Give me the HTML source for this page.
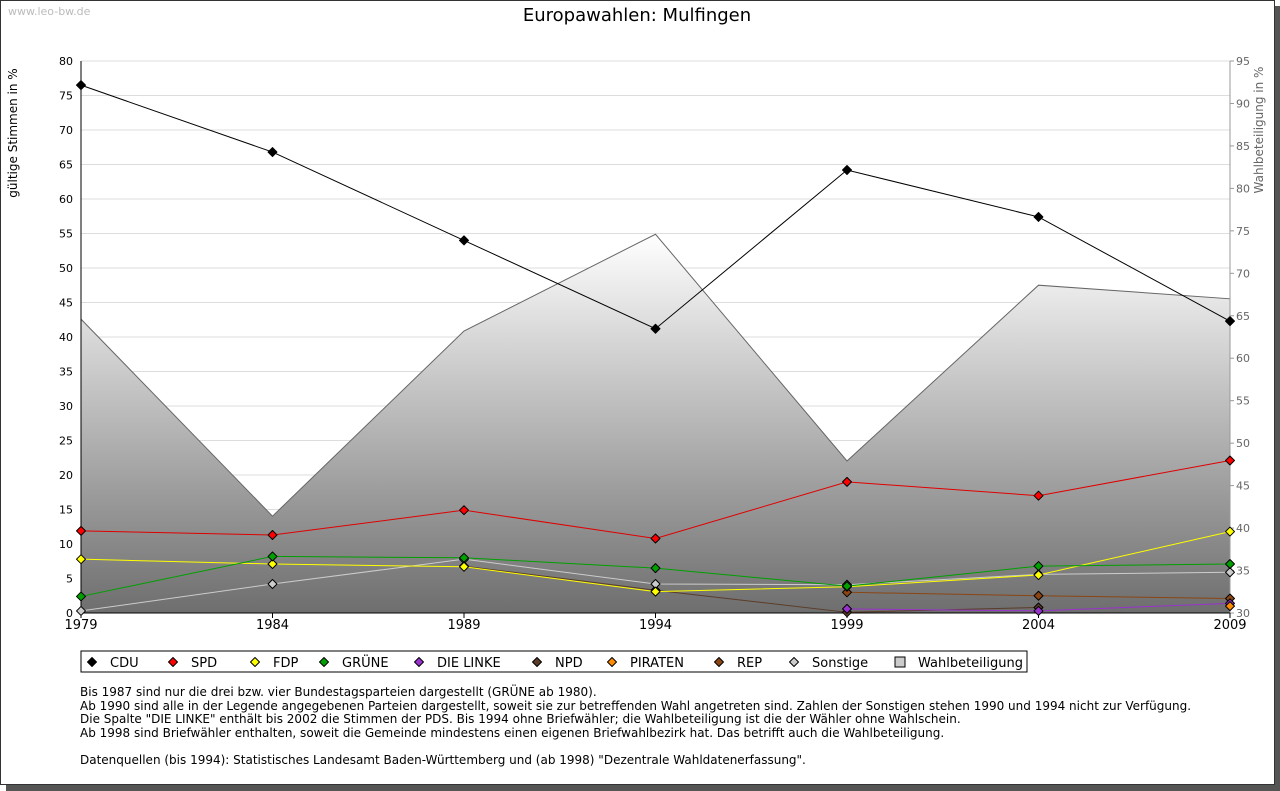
<!DOCTYPE html>
<html><head><meta charset="utf-8"><style>
body{margin:0;background:#fff;font-family:"DejaVu Sans","Liberation Sans",sans-serif;}
#frame{position:absolute;left:0;top:0;width:1273px;height:783px;border:1px solid #333;box-shadow:6px 6px 0 #555;background:#fff;}
.notes{position:absolute;left:80px;top:686px;font-size:12px;line-height:13.5px;color:#000;}
</style></head><body>
<div id="frame"></div>
<svg id="chart" width="1280" height="791" style="position:absolute;left:0;top:0;font-family:'DejaVu Sans',sans-serif">
<defs><linearGradient id="g" x1="0" y1="0" x2="0" y2="1"><stop offset="0" stop-color="#ffffff"/><stop offset="1" stop-color="#6e6e6e"/></linearGradient></defs>
<text x="8" y="15" font-size="11" fill="#bbb">www.leo-bw.de</text>
<text x="637" y="21" font-size="18" text-anchor="middle">Europawahlen: Mulfingen</text>
<g id="plot"></g>
</svg>
<div class="notes">Bis 1987 sind nur die drei bzw. vier Bundestagsparteien dargestellt (GRÜNE ab 1980).<br>Ab 1990 sind alle in der Legende angegebenen Parteien dargestellt, soweit sie zur betreffenden Wahl angetreten sind. Zahlen der Sonstigen stehen 1990 und 1994 nicht zur Verfügung.<br>Die Spalte "DIE LINKE" enthält bis 2002 die Stimmen der PDS. Bis 1994 ohne Briefwähler; die Wahlbeteiligung ist die der Wähler ohne Wahlschein.<br>Ab 1998 sind Briefwähler enthalten, soweit die Gemeinde mindestens einen eigenen Briefwahlbezirk hat. Das betrifft auch die Wahlbeteiligung.<br><br>Datenquellen (bis 1994): Statistisches Landesamt Baden-Württemberg und (ab 1998) "Dezentrale Wahldatenerfassung".</div>
<script>
const years=[1979,1984,1989,1994,1999,2004,2009];
const turnout=[64.6,41.4,63.2,74.6,47.9,68.6,67.0];
const cdu=[76.5,66.8,54.0,41.2,64.2,57.4,42.3];
const spd=[11.9,11.3,14.9,10.8,19.0,17.0,22.1];
const fdp=[7.8,7.1,6.7,3.1,3.8,5.5,11.8];
const gruene=[2.4,8.2,8.0,6.5,3.9,6.8,7.1];
const linke=[null,null,null,null,0.6,0.3,1.4];
const npd=[null,null,6.8,3.3,0.1,0.8,null];
const piraten=[null,null,null,null,null,null,1.0];
const rep=[null,null,null,null,3.0,2.5,2.1];
const sonstige=[0.3,4.2,7.8,4.2,4.1,5.6,5.9];
const leftTicks=[0,5,10,15,20,25,30,35,40,45,50,55,60,65,70,75,80];
const rightTicks=[30,35,40,45,50,55,60,65,70,75,80,85,90,95];
const X0=81,X1=1230,Y0=613,Y1=61;
const x=y=>X0+(y-1979)/(2009-1979)*(X1-X0);
const yl=v=>Y0-v/80*(Y0-Y1);
const yr=v=>Y0-(v-30)/65*(Y0-Y1);
const NS='http://www.w3.org/2000/svg';
const g=document.getElementById('plot');
function mk(t,a,txt){const e=document.createElementNS(NS,t);for(const k in a)e.setAttribute(k,a[k]);if(txt!=null)e.textContent=txt;g.appendChild(e);return e;}
leftTicks.forEach(v=>{const l=mk('line',{x1:X0,x2:X1,y1:yl(v),y2:yl(v),stroke:'#ddd'});


const t=mk('text',{x:73,y:yl(v)+4,'font-size':11,'text-anchor':'end'},v);

});
rightTicks.forEach(v=>{const t=mk('text',{x:1236,y:yr(v)+4,'font-size':11,fill:'#666'},v);


mk('line',{x1:X1,x2:X1+4,y1:yr(v),y2:yr(v),stroke:'#999'});});
let d='M'+x(years[0])+','+Y0;years.forEach((yy,i)=>d+=' L'+x(yy)+','+yr(turnout[i]));d+=' L'+x(years[6])+','+Y0+'Z';
const area=mk('path',{d:d,fill:'url(#g)',stroke:'#666','stroke-width':1});


mk('line',{x1:X0,x2:X0,y1:Y1,y2:Y0,stroke:'#000'});
mk('line',{x1:X1,x2:X1,y1:Y1,y2:Y0,stroke:'#999'});
mk('line',{x1:X0,x2:X1,y1:Y0,y2:Y0,stroke:'#000'});
years.forEach(yy=>{mk('line',{x1:x(yy),x2:x(yy),y1:Y0,y2:Y0+5,stroke:'#000'});
const t=mk('text',{x:x(yy),y:629,'font-size':13,'text-anchor':'middle'},yy);

});
let t1=mk('text',{x:17,y:133,'font-size':12,'text-anchor':'middle',transform:'rotate(-90 17 133)'},'gültige Stimmen in %');

let t2=mk('text',{x:1263,y:130,'font-size':12,fill:'#666','text-anchor':'middle',transform:'rotate(-90 1263 130)'},'Wahlbeteiligung in %');

const series=[['CDU',cdu,'#000','#000'],['NPD',npd,'#5a3c28','#5a3c28'],['REP',rep,'#8b4513','#8b4513'],['Sonstige',sonstige,'#ccc','#ccc'],['DIE LINKE',linke,'#9932cc','#9932cc'],['PIRATEN',piraten,'#ff8c00','#ff8c00'],['FDP',fdp,'#ffff00','#ffff00'],['GRÜNE',gruene,'#00a000','#00a000'],['SPD',spd,'#e00000','#ff0000']];
series.forEach(([n,vals,lc,fc])=>{
 const key=n.toLowerCase().replace(/ /g,'-').replace('ü','ue');
 let pts=[];vals.forEach((v,i)=>{if(v!=null)pts.push(x(years[i])+','+yl(v));});
 if(pts.length>1){const p=mk('polyline',{points:pts.join(' '),fill:'none',stroke:lc,'stroke-width':1});
 }
 vals.forEach((v,i)=>{if(v==null)return;const cx=x(years[i]),cy=yl(v);
 const m=mk('path',{d:`M${cx},${cy-4.5}L${cx+4.5},${cy}L${cx},${cy+4.5}L${cx-4.5},${cy}Z`,fill:fc,stroke:'#000','stroke-width':1,'stroke-linejoin':'round'});
 });
});
const lg=mk('rect',{x:81,y:651,width:946,height:21,fill:'#fff',stroke:'#000'});

const leg=[['CDU','#000',92],['SPD','#ff0000',173],['FDP','#ffff00',255],['GRÜNE','#00a000',324],['DIE LINKE','#9932cc',419],['NPD','#5a3c28',537],['PIRATEN','#ff8c00',612],['REP','#8b4513',719],['Sonstige','#ccc',794]];
leg.forEach(([n,c,lx])=>{const cy=662;
 mk('path',{d:`M${lx},${cy-4.5}L${lx+4.5},${cy}L${lx},${cy+4.5}L${lx-4.5},${cy}Z`,fill:c,stroke:'#000','stroke-linejoin':'round'});
 const t=mk('text',{x:lx+18,y:cy+5,'font-size':13},n);
 });
mk('rect',{x:895,y:657,width:10,height:10,fill:'#ccc',stroke:'#000'});
const tw=mk('text',{x:918,y:667,'font-size':13},'Wahlbeteiligung');

</script>
</body></html>
